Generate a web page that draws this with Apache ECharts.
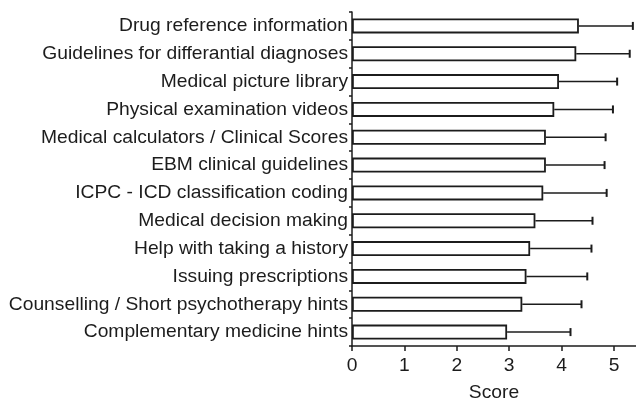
<!DOCTYPE html>
<html>
<head>
<meta charset="utf-8">
<script src="https://cdn.jsdelivr.net/npm/echarts@6/dist/echarts.min.js"></script>
<style>html,body{margin:0;padding:0;background:#fff}#c{width:636px;height:400px}</style>
</head>
<body>
<div id="c"></div>
<script>
var categories = [
  "Drug reference information",
  "Guidelines for differantial diagnoses",
  "Medical picture library",
  "Physical examination videos",
  "Medical calculators / Clinical Scores",
  "EBM clinical guidelines",
  "ICPC - ICD classification coding",
  "Medical decision making",
  "Help with taking a history",
  "Issuing prescriptions",
  "Counselling / Short psychotherapy hints",
  "Complementary medicine hints"
];
var means = [4.33, 4.28, 3.95, 3.86, 3.70, 3.70, 3.65, 3.50, 3.40, 3.33, 3.25, 2.96];
var upper = [5.36, 5.30, 5.06, 4.98, 4.84, 4.82, 4.86, 4.59, 4.57, 4.49, 4.38, 4.17];
var xTicks = [0, 1, 2, 3, 4, 5];

var chart = echarts.init(document.getElementById('c'), null, {renderer: 'canvas'});
var ink = '#1c1c1c';
var font = 'Liberation Sans, Arial, sans-serif';
var fs = 19.25;

var errData = categories.map(function (c, i) { return [i, means[i], upper[i]]; });

chart.setOption({
  animation: false,
  backgroundColor: '#fff',
  grid: {left: 352, right: 0, top: 12, bottom: 54, containLabel: false, outerBoundsMode: 'none'},
  xAxis: {
    type: 'value', min: 0, max: 5.42, interval: 1,
    name: 'Score', nameLocation: 'middle', nameGap: 37,
    nameTextStyle: {color: ink, fontSize: fs, fontFamily: font},
    axisLine: {show: true, lineStyle: {color: ink, width: 1.5}},
    axisTick: {show: true, length: 5, lineStyle: {color: ink, width: 1.5}},
    axisLabel: {color: ink, fontSize: fs, fontFamily: font, margin: 10, showMaxLabel: false,
      formatter: function (v) { return xTicks.indexOf(v) >= 0 ? String(v) : ''; }},
    splitLine: {show: false}
  },
  yAxis: {
    type: 'category', data: categories, inverse: true,
    axisLine: {show: true, lineStyle: {color: ink, width: 1.5}},
    axisTick: {show: true, length: 3, alignWithLabel: false, lineStyle: {color: ink, width: 1.5}},
    axisLabel: {color: ink, fontSize: fs, fontFamily: font, margin: 4},
    splitLine: {show: false}
  },
  series: [
    {
      type: 'bar', data: means, barWidth: 15,
      itemStyle: {color: '#fff', borderColor: ink, borderWidth: 1.8},
      z: 2
    },
    {
      type: 'custom', data: errData, z: 3,
      renderItem: function (params, api) {
        var i = api.value(0);
        var p0 = api.coord([api.value(1), i]);
        var p1 = api.coord([api.value(2), i]);
        var h = 4;
        return {
          type: 'group',
          children: [
            {type: 'line', shape: {x1: p0[0], y1: p0[1], x2: p1[0], y2: p1[1]}, style: {stroke: ink, lineWidth: 1.5}},
            {type: 'line', shape: {x1: p1[0], y1: p1[1] - h, x2: p1[0], y2: p1[1] + h}, style: {stroke: ink, lineWidth: 2}}
          ]
        };
      },
      encode: {x: [1, 2], y: 0}
    }
  ]
});
</script>
</body>
</html>
